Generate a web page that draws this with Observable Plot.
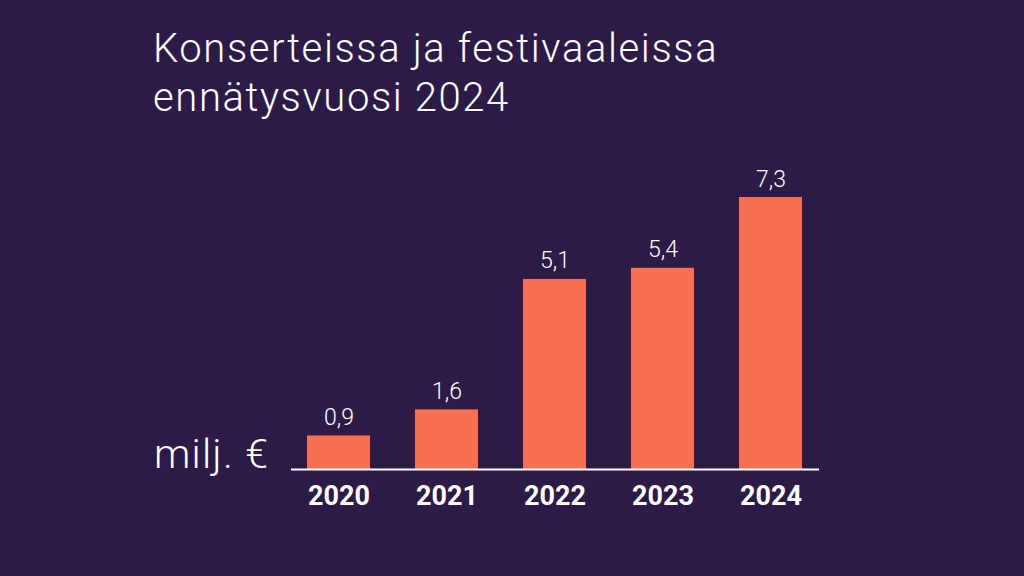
<!DOCTYPE html>
<html>
<head>
<meta charset="utf-8">
<script src="https://cdn.jsdelivr.net/npm/d3@7"></script>
<script src="https://cdn.jsdelivr.net/npm/@observablehq/plot@0.6"></script>
<style>
  html, body { margin: 0; padding: 0; background: #2d1b47; }
  #wrap { position: relative; width: 1024px; height: 576px; overflow: hidden; background: #2d1b47; }
  #title { position: absolute; left: 153px; top: 24px; margin: 0; color: #ffffff;
    font-family: Roboto, sans-serif; font-weight: 300; font-size: 40px; line-height: 49px; letter-spacing: 1.6px; }
  #unit { position: absolute; left: 154px; top: 430px; color: #ffffff;
    font-family: Roboto, sans-serif; font-weight: 300; font-size: 41px; line-height: 48px; letter-spacing: 1.2px; }
  #chart { position: absolute; left: 0; top: 0; }
</style>
</head>
<body>
<div id="wrap">
  <div id="chart"></div>
  <h1 id="title">Konserteissa ja festivaaleissa<br>ennätysvuosi 2024</h1>
  <div id="unit">milj. €</div>
</div>
<script>
const years = ["2020", "2021", "2022", "2023", "2024"];
const values = [0.9, 1.6, 5.1, 5.4, 7.3];
const data = years.map((year, i) => ({year, value: values[i]}));
const fmt = v => v.toFixed(1).replace(".", ",");

const chart = Plot.plot({
  width: 1024,
  height: 576,
  marginLeft: 260,
  marginRight: 176,
  marginTop: 0,
  marginBottom: 0,
  style: {background: "transparent", color: "#ffffff", fontFamily: "Roboto, sans-serif", overflow: "visible"},
  x: {domain: years, padding: 0.42, label: null},
  y: {domain: [0, 7.3], range: [469, 197], axis: null},
  marks: [
    Plot.barY(data, {x: "year", y: "value", fill: "#f86f52"}),
    Plot.ruleY([0], {stroke: "#ffffff", strokeWidth: 2, insetLeft: 31, insetRight: 29}),
    Plot.text(data, {x: "year", y: "value", text: d => fmt(d.value), lineAnchor: "bottom", dy: -11,
      fill: "#ffffff", fontSize: 23, fontWeight: 300, letterSpacing: 1}),
    Plot.axisX({anchor: "bottom", tickSize: 0, label: null, fontSize: 27, fontWeight: "bold",
      y: 0, dy: 16, tickPadding: 0, fill: "#ffffff", lineAnchor: "top", letterSpacing: 0.8})
  ]
});
document.getElementById("chart").appendChild(chart);
</script>
</body>
</html>
